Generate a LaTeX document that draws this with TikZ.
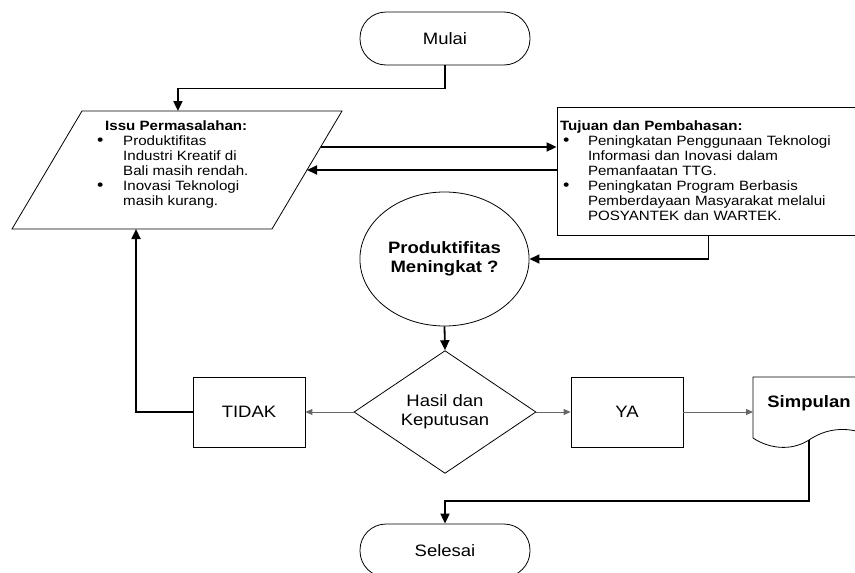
\documentclass[tikz,border=0pt]{standalone}
\usepackage{fontspec}
\setmainfont{Liberation Sans}[FakeStretch=1.12]
\usetikzlibrary{arrows.meta,shapes.geometric,calc}

\newcommand{\labelfont}{\fontsize{16.5}{19}\selectfont}
\newcommand{\notefont}{\fontsize{13.5}{15}\selectfont}
\newcommand{\dotitem}[1]{\makebox[#1][l]{\scalebox{1.2}{\textbullet}}}

\begin{document}
\begin{tikzpicture}[x=1pt,y=-1pt,
    every node/.style={font=\labelfont},
    terminal/.style={draw,line width=0.8pt,rounded corners=26pt,minimum width=170pt,minimum height=53pt},
    process/.style={draw,line width=0.8pt,minimum width=112pt,minimum height=70pt},
    decision/.style={draw,diamond,line width=0.8pt,minimum width=182pt,minimum height=112pt,inner sep=0pt,align=center},
    flow/.style={-{Triangle[length=10pt,width=9pt]},line width=1.8pt},
    branch/.style={-{Triangle[length=7pt,width=6pt]},line width=0.9pt,black!60}]
  \useasboundingbox (0,0) rectangle (855,573);
  % Start and end
  \node[terminal] (mulai) at (445,38.5) {Mulai};
  \node[terminal] (selesai) at (445,550.5) {Selesai};
  % Problem (parallelogram)
  \coordinate (pNW) at (82,111);
  \coordinate (pNE) at (342,111);
  \coordinate (pSE) at (272,229);
  \coordinate (pSW) at (12,229);
  \draw[line width=0.8pt] (pNW) -- (pNE) -- (pSE) -- (pSW) -- cycle;
  \node[anchor=north west,align=left,font=\notefont,inner sep=0pt] (issu) at (97,121) {%
    \hspace*{8pt}\textbf{Issu Permasalahan:}\\
    \dotitem{26pt}Produktifitas\\
    \hspace*{26pt}Industri Kreatif di\\
    \hspace*{26pt}Bali masih rendah.\\
    \dotitem{26pt}Inovasi Teknologi\\
    \hspace*{26pt}masih kurang.};
  \coordinate (issutop) at ($(pNW)!0.369!(pNE)$);
  \coordinate (issubot) at ($(pSW)!0.477!(pSE)$);
  \coordinate (issuout) at ($(pNE)!0.305!(pSE)$);
  \coordinate (issuin) at ($(pNE)!0.5!(pSE)$);
  % Goals
  \node[draw,line width=0.8pt,minimum width=303pt,minimum height=128pt,text width=297pt,
    inner sep=3pt,align=left,font=\notefont] (tujuan) at (708.5,171) {%
    \textbf{Tujuan dan Pembahasan:}\\
    \hspace*{3pt}\dotitem{25pt}Peningkatan Penggunaan Teknologi\\
    \hspace*{28pt}Informasi dan Inovasi dalam\\
    \hspace*{28pt}Pemanfaatan TTG.\\
    \hspace*{3pt}\dotitem{25pt}Peningkatan Program Berbasis\\
    \hspace*{28pt}Pemberdayaan Masyarakat melalui\\
    \hspace*{28pt}POSYANTEK dan WARTEK.};
  % Question and decision
  \node[draw,ellipse,line width=0.8pt,minimum width=163pt,minimum height=134pt,
    font=\labelfont\bfseries,align=center] (tanya) at (444.5,259) {Produktifitas\\Meningkat ?};
  \node[decision] (hasil) at (445,412) {Hasil dan\\Keputusan};
  \node[process] (tidak) at (249,412) {TIDAK};
  \node[process] (ya) at (627,412) {YA};
  % Conclusion (document)
  \draw[line width=0.8pt] (753,438) -- (753,377) -- (866,377) -- (866,434)
    .. controls (845,426) and (825,429) .. (809,440)
    .. controls (790,452) and (768,448) .. (753,438);
  \node[font=\labelfont\bfseries] (simp) at (809,403) {Simpulan};
  \coordinate (simpin) at (753,412);
  \coordinate (simpbot) at (809,440);
  % Connectors
  \draw[flow] (mulai.south) -- ++(0,23) -| (issutop);
  \draw[flow] (issuout) -- (issuout -| tujuan.west);
  \draw[flow] (issuin -| tujuan.west) -- (issuin);
  \draw[flow] (tujuan.south) |- (tanya.east);
  \draw[flow] (tanya.south) -- (hasil.north);
  \draw[branch] (hasil.west) -- (tidak.east);
  \draw[branch] (hasil.east) -- (ya.west);
  \draw[branch] (ya.east) -- (simpin);
  \draw[flow] (tidak.west) -| (issubot);
  \draw[flow] (simpbot) -- ++(0,61) -| (selesai.north);
\end{tikzpicture}
\end{document}
